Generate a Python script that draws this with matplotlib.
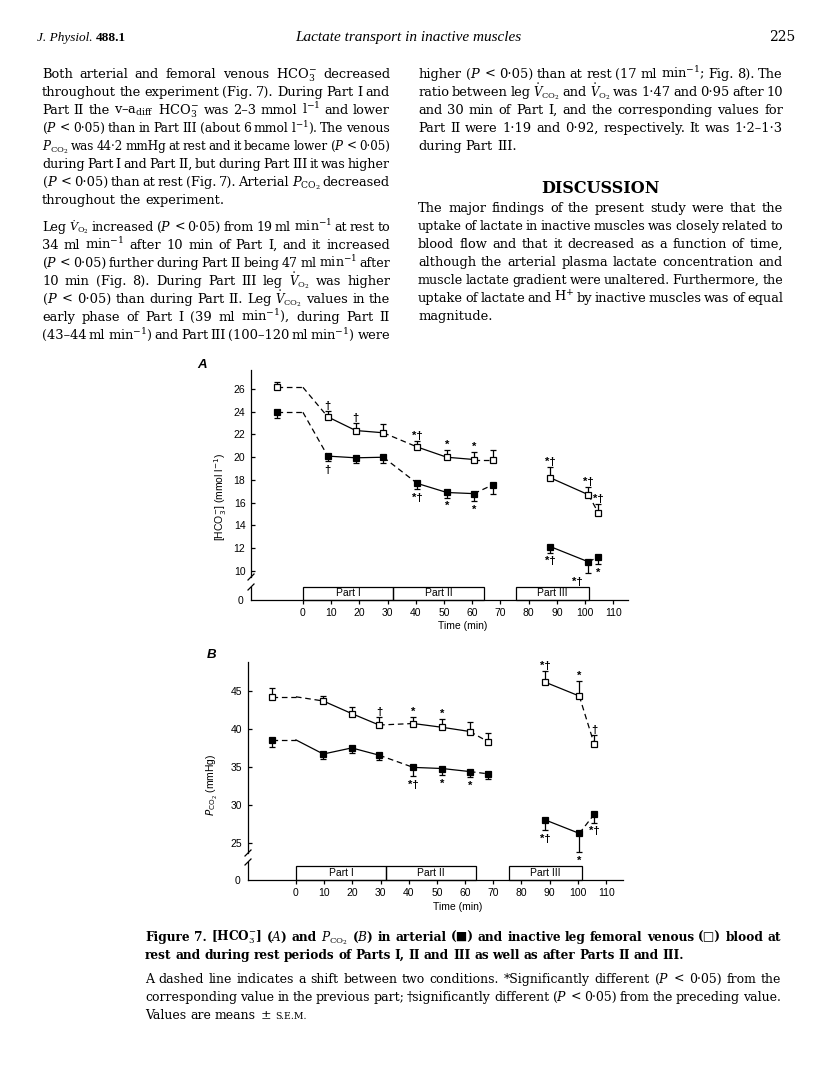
import matplotlib
matplotlib.use('Agg')
import matplotlib.pyplot as plt
from matplotlib.patches import Rectangle
from matplotlib.lines import Line2D

plt.rcParams['mathtext.fontset'] = 'dejavuserif'
plt.rcParams['font.family'] = ['Liberation Sans', 'DejaVu Sans']

# ---- values ----
part_names = ['Part I', 'Part II', 'Part III']
part_start = [0, 32, 75.5]
part_end = [32, 64, 101.5]

# A: [HCO3-] (mmol/l), rest then Parts I and II
a_time = [-9.3, 8.8, 18.7, 28.5, 40.5, 51.0, 60.6, 67.5]
a_ven = [26.15, 23.55, 22.35, 22.15, 20.9, 20.0, 19.8, 19.8]
a_ven_se = [0.5, 0.55, 0.65, 0.75, 0.55, 0.65, 0.7, 0.8]
a_art = [23.95, 20.1, 19.95, 20.0, 17.7, 16.9, 16.8, 17.6]
a_art_se = [0.5, 0.47, 0.5, 0.5, 0.5, 0.45, 0.65, 0.85]
a_ven_sig = ['', '†', '†', '', '*†', '*', '*', '']
a_art_sig = ['', '†', '', '', '*†', '*', '*', '']
# Part III
a_time3 = [87.6, 101.2, 104.7]
a_ven3 = [18.2, 16.7, 15.1]
a_ven3_se = [0.9, 0.7, 0.8]
a_art3 = [12.15, 10.8, 11.25]
a_art3_se = [0.55, 1.0, 0.65]
a_ven3_sig = ['*†', '*†', '*†']
a_art3_sig = ['*†', '*†', '*']

# B: PCO2 (mmHg)
b_time = [-8.4, 9.7, 19.8, 29.5, 41.6, 51.9, 61.7, 68.2]
b_ven = [44.2, 43.65, 42.0, 40.5, 40.7, 40.2, 39.65, 38.3]
b_ven_se = [1.1, 0.7, 0.9, 1.0, 0.9, 1.05, 1.3, 1.1]
b_art = [38.55, 36.7, 37.5, 36.55, 34.95, 34.8, 34.4, 34.1]
b_art_se = [0.95, 0.7, 0.65, 0.65, 1.15, 0.85, 0.75, 0.7]
b_ven_sig = ['', '', '', '†', '*', '*', '', '']
b_art_sig = ['', '', '', '', '*†', '*', '*', '']
b_time3 = [88.5, 100.5, 105.8]
b_ven3 = [46.1, 44.3, 38.0]
b_ven3_se = [1.5, 2.0, 1.2]
b_art3 = [28.05, 26.3, 28.8]
b_art3_se = [1.35, 2.5, 1.1]
b_ven3_sig = ['*†', '*', '†']
b_art3_sig = ['*†', '*', '*†']

# line style of each link ('--' = shift between two conditions)
main_links_ven = ['--', '-', '-', '--', '-', '-', '--']
a_links_art = ['--', '-', '-', '--', '-', '-', '--']
b_links_art = ['-', '-', '-', '--', '-', '-', '--']
links3 = ['-', '--']

W, H = 816, 1088
fig = plt.figure(figsize=(W / 100, H / 100), dpi=100)
rend = fig.canvas.get_renderer()

DASH = (0, (4.5, 3))
LW = 0.9
TICK_FS = 7.5


def px_axes(x0, y0, x1, y1):
    ax = fig.add_axes([x0 / W, 1 - y1 / H, (x1 - x0) / W, (y1 - y0) / H])
    ax.set_facecolor('none')
    return ax


def add_series(ax, t, v, se, links, sig, filled, from_rest, sig_dx=None):
    xs, ys, styles = list(t), list(v), list(links)
    if from_rest:
        # rest value carried forward to the start of Part I
        xs.insert(1, part_start[0])
        ys.insert(1, v[0])
        styles.insert(0, '--')
    for i, ls in enumerate(styles):
        ax.plot(xs[i:i + 2], ys[i:i + 2], color='k', lw=LW,
                ls=DASH if ls == '--' else '-', zorder=2)
    zero = [0] * len(se)
    yerr = [se, zero] if filled else [zero, se]
    _, caps, _ = ax.errorbar(t, v, yerr=yerr, fmt='none', ecolor='k', elinewidth=LW,
                             capsize=2.5, capthick=LW, zorder=3)
    caps[1 if filled else 0].set_visible(False)
    ax.plot(t, v, 's', ms=4.6, mfc='k' if filled else 'white', mec='k', mew=0.9, zorder=4)
    for i, s in enumerate(sig):
        if not s:
            continue
        dx = sig_dx[i] if sig_dx else 0
        if filled:
            ax.annotate(s, (t[i], v[i] - se[i]), xytext=(dx, -2.5), textcoords='offset points',
                        ha='center', va='top', fontsize=8, fontweight='bold')
        else:
            ax.annotate(s, (t[i], v[i] + se[i]), xytext=(dx, 0), textcoords='offset points',
                        ha='center', va='bottom', fontsize=8, fontweight='bold')


def panel(left, right, top, brk, low_top, base, box_h, xlim, ylim, yticks):
    ax = px_axes(left, top, right, brk)
    ax.set_xlim(xlim)
    ax.set_ylim(ylim)
    for s in ['top', 'right', 'bottom']:
        ax.spines[s].set_visible(False)
    ax.spines['left'].set_linewidth(LW)
    ax.set_xticks([])
    ax.set_yticks(yticks)
    ax.tick_params(axis='y', direction='in', length=3, width=LW, labelsize=TICK_FS, pad=4)

    low = px_axes(left, low_top, right, base)
    low.set_xlim(xlim)
    low.set_ylim(0, (base - low_top) / box_h)
    for s in ['top', 'right']:
        low.spines[s].set_visible(False)
    for s in ['left', 'bottom']:
        low.spines[s].set_linewidth(LW)
    low.set_yticks([0])
    low.tick_params(axis='y', length=0, labelsize=TICK_FS, pad=5.5)
    low.set_xticks(range(0, 111, 10))
    low.tick_params(axis='x', direction='out', length=3, width=LW, labelsize=TICK_FS, pad=3)
    for s, e, n in zip(part_start, part_end, part_names):
        low.add_patch(Rectangle((s, 0), e - s, 1, fill=False, ec='k', lw=LW, clip_on=False))
        low.text((s + e) / 2, 0.5, n, ha='center', va='center', fontsize=7.5)
    # axis break marks
    for cy in (brk, low_top):
        fig.add_artist(Line2D([(left - 3) / W, (left + 3) / W],
                              [1 - (cy + 3) / H, 1 - (cy - 3) / H], color='k', lw=LW))
    return ax, low


# ---- panel A ----
axA, lowA = panel(251, 628, 370, 577, 587, 600, 13, (-18.4, 115.2), (9.47, 27.67), range(10, 27, 2))
add_series(axA, a_time, a_ven, a_ven_se, main_links_ven, a_ven_sig, False, True)
add_series(axA, a_time, a_art, a_art_se, a_links_art, a_art_sig, True, True)
add_series(axA, a_time3, a_ven3, a_ven3_se, links3, a_ven3_sig, False, False)
add_series(axA, a_time3, a_art3, a_art3_se, links3, a_art3_sig, True, False, sig_dx=[0, -8, 0])
axA.set_ylabel(r'[HCO$_3^{-}$] (mmol l$^{-1}$)', fontsize=7.5, math_fontfamily='dejavusans')
axA.yaxis.set_label_coords(-0.058, 0.386)
lowA.set_xlabel('Time (min)', fontsize=7.5)
lowA.xaxis.set_label_coords(0.562, -1.65)
fig.text(202 / W, 1 - 365 / H, 'A', fontsize=9.5, style='italic', fontweight='bold', ha='center', va='center')

# ---- panel B ----
axB, lowB = panel(248, 623, 662, 853, 862, 880, 14, (-17.0, 116.0), (23.73, 48.76), range(25, 46, 5))
add_series(axB, b_time, b_ven, b_ven_se, main_links_ven, b_ven_sig, False, True)
add_series(axB, b_time, b_art, b_art_se, b_links_art, b_art_sig, True, True)
add_series(axB, b_time3, b_ven3, b_ven3_se, links3, b_ven3_sig, False, False)
add_series(axB, b_time3, b_art3, b_art3_se, links3, b_art3_sig, True, False)
axB.set_ylabel(r'$P_{\mathrm{CO_2}}$ (mmHg)', fontsize=7.5, math_fontfamily='dejavusans')
axB.yaxis.set_label_coords(-0.075, 0.356)
lowB.set_xlabel('Time (min)', fontsize=7.5)
lowB.xaxis.set_label_coords(0.56, -1.25)
fig.text(212 / W, 1 - 655 / H, 'B', fontsize=9.5, style='italic', fontweight='bold', ha='center', va='center')

# ---- page text ----
SERIF = 'DejaVu Serif'
SUBS = [
    ('@PCO2', r'$P_{\mathrm{CO_2}}$'),
    ('@VCO2', r'$\dot{V}_{\mathrm{CO_2}}$'),
    ('@VO2', r'$\dot{V}_{\mathrm{O_2}}$'),
    ('@HCO3', r'HCO$_3^{-}$'),
    ('@diff', r'$_{\mathrm{diff}}$'),
    ('@H+', r'H$^{+}$'),
    ('@-1', r'$^{-1}$'),
    ('@pm', r'$\pm$'),
    ('@P', r'$P$'),
    ('@A', r'$A$'),
    ('@B', r'$B$'),
]


def sub(tok):
    for a, b in SUBS:
        tok = tok.replace(a, b)
    return tok


def text_line(s, x0, base, x1=None, size=9.4, weight='normal', style='normal'):
    """Place words of one line; justified to x1 when given, else natural spacing."""
    toks = s.split(' ')
    fs = size
    while True:
        arts = []
        for tk in toks:
            f = fs
            if tk == 'S.E.M.':
                f = fs * 0.75
            elif tk.startswith('@V'):
                f = fs * 0.9   # dotted V is tall; keep it inside the line
            arts.append(fig.text(0, 1 - base / H, sub(tk), fontsize=f, family=SERIF,
                                 style=style, fontweight=weight, va='baseline', ha='left'))
        ws = [a.get_window_extent(rend).width for a in arts]
        space = 0.318 * fs * 100 / 72
        if x1 is None:
            gap = space
            break
        gap = (x1 - x0 - sum(ws)) / max(len(arts) - 1, 1)
        if gap >= 0.5 * space:
            break
        for a in arts:
            a.remove()
        fs *= 0.97
    x = x0
    for a, w in zip(arts, ws):
        a.set_x(x / W)
        x += w + gap


left_lines = [
    'Both arterial and femoral venous @HCO3 decreased',
    'throughout the experiment (Fig. 7). During Part I and',
    'Part II the v–a@diff @HCO3 was 2–3 mmol l@-1 and lower',
    '(@P < 0·05) than in Part III (about 6 mmol l@-1). The venous',
    '@PCO2 was 44·2 mmHg at rest and it became lower (@P < 0·05)',
    'during Part I and Part II, but during Part III it was higher',
    '(@P < 0·05) than at rest (Fig. 7). Arterial @PCO2 decreased',
    'throughout the experiment.',
]
left_lines2 = [
    'Leg @VO2 increased (@P < 0·05) from 19 ml min@-1 at rest to',
    '34 ml min@-1 after 10 min of Part I, and it increased',
    '(@P < 0·05) further during Part II being 47 ml min@-1 after',
    '10 min (Fig. 8). During Part III leg @VO2 was higher',
    '(@P < 0·05) than during Part II. Leg @VCO2 values in the',
    'early phase of Part I (39 ml min@-1), during Part II',
    '(43–44 ml min@-1) and Part III (100–120 ml min@-1) were',
]
right_lines = [
    'higher (@P < 0·05) than at rest (17 ml min@-1; Fig. 8). The',
    'ratio between leg @VCO2 and @VO2 was 1·47 and 0·95 after 10',
    'and 30 min of Part I, and the corresponding values for',
    'Part II were 1·19 and 0·92, respectively. It was 1·2–1·3',
    'during Part III.',
]
right_lines2 = [
    'The major findings of the present study were that the',
    'uptake of lactate in inactive muscles was closely related to',
    'blood flow and that it decreased as a function of time,',
    'although the arterial plasma lactate concentration and',
    'muscle lactate gradient were unaltered. Furthermore, the',
    'uptake of lactate and @H+ by inactive muscles was of equal',
    'magnitude.',
]
cap_bold = [
    'Figure 7. [@HCO3] (@A) and @PCO2 (@B) in arterial (■) and inactive leg femoral venous (□) blood at',
    'rest and during rest periods of Parts I, II and III as well as after Parts II and III.',
]
cap_text = [
    'A dashed line indicates a shift between two conditions. *Significantly different (@P < 0·05) from the',
    'corresponding value in the previous part; †significantly different (@P < 0·05) from the preceding value.',
    'Values are means @pm S.E.M.',
]

# running head
fig.text(37 / W, 1 - 41 / H, 'J. Physiol.', fontsize=9.5, family='Liberation Serif', style='italic', va='baseline')
fig.text(96 / W, 1 - 41 / H, '488.1', fontsize=9.5, family='Liberation Serif', fontweight='bold', va='baseline')
fig.text(408 / W, 1 - 41 / H, 'Lactate transport in inactive muscles', fontsize=11,
         family='Liberation Serif', style='italic', ha='center', va='baseline')
fig.text(795 / W, 1 - 41 / H, '225', fontsize=10, family=SERIF, ha='right', va='baseline')

for i, s in enumerate(left_lines):
    text_line(s, 42, 78 + 18 * i, None if i == len(left_lines) - 1 else 390)
for i, s in enumerate(left_lines2):
    text_line(s, 42, 231 + 18 * i, 390)
for i, s in enumerate(right_lines):
    text_line(s, 418, 78 + 18 * i, None if i == len(right_lines) - 1 else 783)
fig.text(600 / W, 1 - 193 / H, 'DISCUSSION', fontsize=11.5, family=SERIF, fontweight='bold',
         ha='center', va='baseline')
for i, s in enumerate(right_lines2):
    text_line(s, 418, 212 + 18 * i, None if i == len(right_lines2) - 1 else 783)

text_line(cap_bold[0], 145, 941, 781, size=8.7, weight='bold')
text_line(cap_bold[1], 145, 959, None, size=8.7, weight='bold')
text_line(cap_text[0], 145, 983, 781, size=9)
text_line(cap_text[1], 145, 1001, 781, size=9)
text_line(cap_text[2], 145, 1019, None, size=9)

fig.savefig('out.png', dpi=100)
